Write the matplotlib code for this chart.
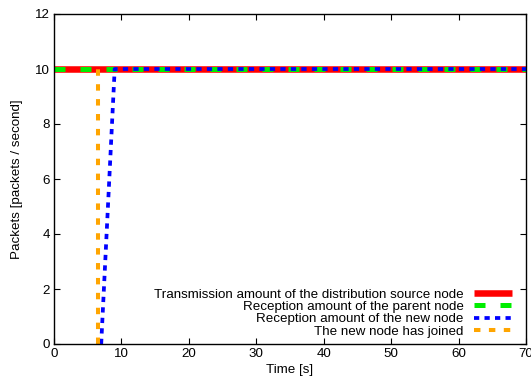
import matplotlib
matplotlib.use("Agg")
import matplotlib.pyplot as plt

plt.rcParams['font.family'] = ['Liberation Sans', 'DejaVu Sans']

# data
src_t = [0, 70]
src_v = [10, 10]
parent_t = [0, 70]
parent_v = [10, 10]
new_t = [7, 9, 70]
new_v = [0, 10, 10]
joined_t = [6.5, 6.5]
joined_v = [0, 10]

labels = ["Transmission amount of the distribution source node",
          "Reception amount of the parent node",
          "Reception amount of the new node",
          "The new node has joined"]
xticks = [0, 10, 20, 30, 40, 50, 60, 70]
yticks = [0, 2, 4, 6, 8, 10, 12]

FS = 9.6

fig = plt.figure(figsize=(5.31, 3.76), dpi=100)
ax = fig.add_axes([54/531, 1-344/376, (526-54)/531, (344-14)/376])

ax.plot(src_t, src_v, color='#ff0000', lw=4.7, label=labels[0], solid_capstyle='butt')
ax.plot(parent_t, parent_v, color='#00ee00', lw=3.6, dashes=(2.2, 3.0), label=labels[1])
ax.plot(new_t, new_v, color='#0000ff', lw=2.7, dashes=(1.4, 1.4), label=labels[2])
ax.plot(joined_t, joined_v, color='#ffa500', lw=2.9, dashes=(1.6, 2.1), label=labels[3])

ax.set_xlim(0, 70)
ax.set_ylim(0, 12)
ax.set_xticks(xticks)
ax.set_yticks(yticks)
ax.tick_params(direction='in', top=True, right=True, labelsize=FS, length=4, width=0.8, pad=3)
for s in ax.spines.values():
    s.set_linewidth(1.0)
ax.set_xlabel("Time [s]", fontsize=FS, labelpad=2.5)
ax.set_ylabel("Packets [packets / second]", fontsize=FS, labelpad=8.5)

leg = ax.legend(loc='lower right', frameon=False, markerfirst=False, fontsize=FS,
                handlelength=2.8, labelspacing=0.0, handletextpad=0.8,
                borderaxespad=0.0, bbox_to_anchor=(0.981, 0.003))

fig.savefig("out.png", dpi=100)
